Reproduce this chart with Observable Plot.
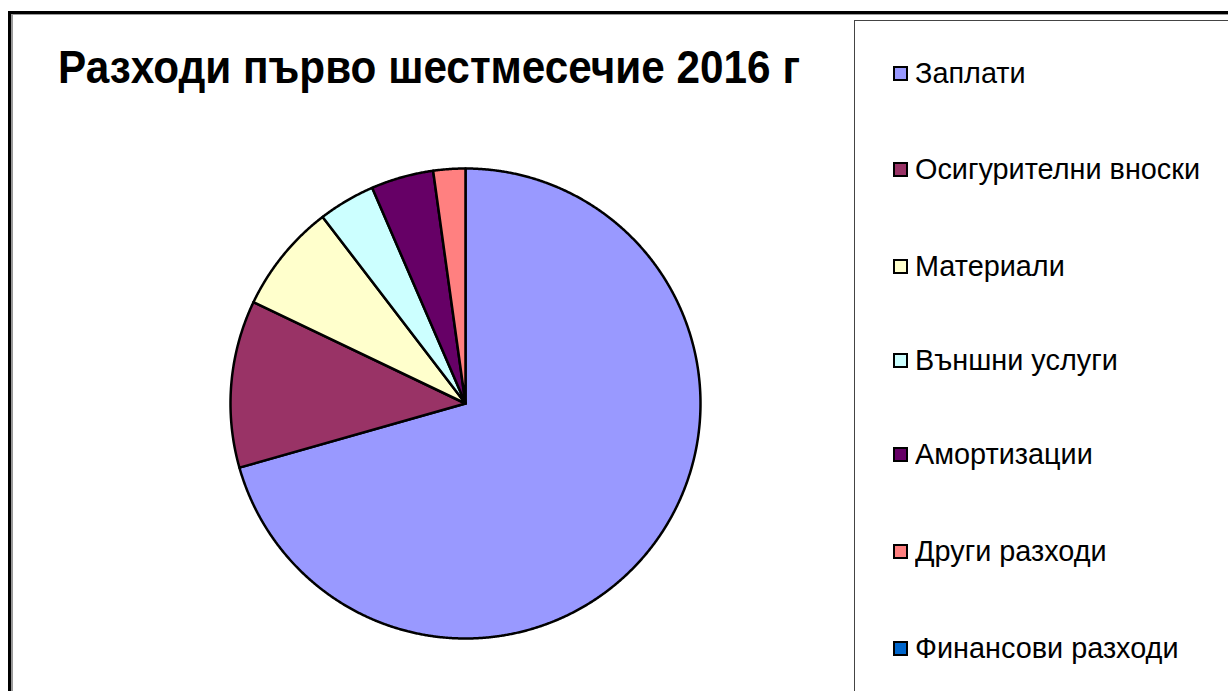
<!DOCTYPE html>
<html><head><meta charset="utf-8">
<script src="https://cdn.jsdelivr.net/npm/d3@7"></script>
<script src="https://cdn.jsdelivr.net/npm/@observablehq/plot@0.6"></script>
<style>
html,body{margin:0;padding:0;background:#fff}
body{width:1228px;height:691px;overflow:hidden;position:relative;font-family:"Liberation Sans",Arial,sans-serif;color:#000}
#frame{position:absolute;left:8px;top:11px;width:1260px;height:720px;border-left:3px solid #000;border-top:3px solid #000;box-shadow:inset 2px 1px 0 #9a9a9a}
#pie{position:absolute;left:0;top:0}
#legend{position:absolute;left:854px;top:20px;width:400px;height:700px;border:1px solid #444;background:#fff}
.row{position:absolute;left:38px;height:30px;line-height:30px;font-size:30px;white-space:nowrap}
.sw{position:absolute;left:0;top:8px;width:11px;height:11px;border:2px solid #000}
.lbl{position:absolute;left:22px;top:0;transform-origin:0 50%}
#title{position:absolute;left:58px;top:44px;font-size:46px;line-height:46px;font-weight:bold;white-space:nowrap;transform-origin:0 50%}
</style></head>
<body>
<div id="frame"></div>
<div id="pie"></div>
<div id="legend"></div>
<div id="title">Разходи първо шестмесечие 2016 г</div>
<script>
const categories = ["Заплати","Осигурителни вноски","Материали","Външни услуги","Амортизации","Други разходи","Финансови разходи"];
const values = [70.6, 11.5, 7.5, 3.9, 4.3, 2.2, 0];
const colors = ["#9999FF","#993366","#FFFFCC","#CCFFFF","#660066","#FF8080","#0066CC"];

const arcs = d3.pie().sort(null).startAngle(0).endAngle(2*Math.PI)(values);
const pts = [];
arcs.forEach((a, i) => {
  if (a.endAngle - a.startAngle <= 0) return;
  const name = categories[i];
  pts.push({name, x: 0, y: 0});
  const n = Math.max(2, Math.ceil((a.endAngle - a.startAngle) / (Math.PI/720)));
  for (let k = 0; k <= n; k++) {
    const t = a.startAngle + (a.endAngle - a.startAngle) * k / n;
    pts.push({name, x: Math.sin(t), y: Math.cos(t)});
  }
});

const chart = Plot.plot({
  width: 1228, height: 691, margin: 0,
  style: "background:transparent;overflow:visible",
  x: {domain: [-1, 1], range: [230, 700], axis: null},
  y: {domain: [-1, 1], range: [638, 168], axis: null},
  color: {domain: categories, range: colors},
  marks: [
    Plot.line(pts, {x: "x", y: "y", z: "name", fill: "name", stroke: "#000", strokeWidth: 2.5, strokeLinejoin: "round", curve: "linear-closed"})
  ]
});
document.getElementById("pie").append(chart);

const legend = document.getElementById("legend");
const rowCenters = [72,168,265,359,453,550,647];
categories.forEach((c, i) => {
  const row = document.createElement("div");
  row.className = "row";
  row.style.top = (rowCenters[i] - 20 - 15) + "px";
  const sw = document.createElement("div");
  sw.className = "sw"; sw.style.background = colors[i];
  const lbl = document.createElement("span");
  lbl.className = "lbl"; lbl.textContent = c;
  row.append(sw, lbl);
  legend.append(row);
});
// condense text horizontally to match reference widths
const title = document.getElementById("title");
title.style.transform = `scaleX(${742 / title.getBoundingClientRect().width})`;
const lbls = [...document.querySelectorAll(".lbl")];
const s = 285 / lbls[1].getBoundingClientRect().width;
lbls.forEach(l => l.style.transform = `scaleX(${s})`);
</script>
</body></html>
